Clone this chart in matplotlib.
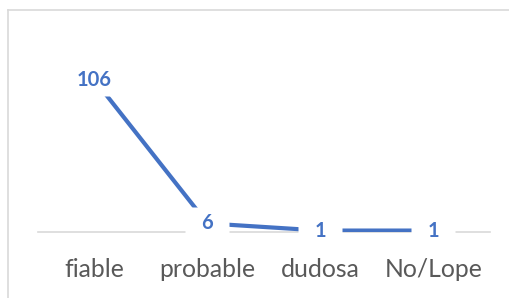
import matplotlib
matplotlib.use("Agg")
import matplotlib.pyplot as plt
from matplotlib.path import Path
from matplotlib.lines import Line2D

categories = ["fiable", "probable", "dudosa", "No/Lope"]
values = [106, 6, 1, 1]

line_color = "#4472C4"
grid_color = "#D9D9D9"
text_color = "#595959"

plt.rcParams['font.family'] = ['Lato', 'DejaVu Sans']

W, H = 510, 298
fig = plt.figure(figsize=(W / 100, H / 100), dpi=100)
ax = fig.add_axes([38 / W, (H - 232) / H, 452 / W, 172 / H])

x = list(range(len(categories)))
ax.plot(x, values, color=line_color, lw=3.0, solid_capstyle="butt", zorder=2)

# white label boxes (Excel-style label background)
rect = Path([(-1, -0.74), (1, -0.74), (1, 0.74), (-1, 0.74), (-1, -0.74)],
            [Path.MOVETO, Path.LINETO, Path.LINETO, Path.LINETO, Path.CLOSEPOLY])
ax.plot(x, values, linestyle="none", marker=rect, markersize=32,
        markerfacecolor="white", markeredgecolor="none", zorder=3, clip_on=False)

for xi, v in zip(x, values):
    ax.text(xi, v, str(v), ha="center", va="center", color=line_color,
            fontsize=14.5, fontweight="bold", zorder=4)

ax.set_xlim(-0.5, len(categories) - 0.5)
ax.set_ylim(0, 120)
ax.set_xticks(x)
ax.set_xticklabels(categories, color=text_color, fontsize=17.8)
ax.tick_params(axis="x", length=0, pad=19)
ax.set_yticks([])
for s in ["left", "right", "top"]:
    ax.spines[s].set_visible(False)
ax.spines["bottom"].set_color(grid_color)
ax.spines["bottom"].set_linewidth(1.2)
ax.spines["bottom"].set_zorder(1)

# chart area border (partially cropped)
fig.add_artist(Line2D([8 / W, 8 / W], [0, 1 - 10 / H], color=grid_color, lw=1.2))
fig.add_artist(Line2D([8 / W, 1], [1 - 10 / H, 1 - 10 / H], color=grid_color, lw=1.2))

fig.savefig("out.png", dpi=100)
